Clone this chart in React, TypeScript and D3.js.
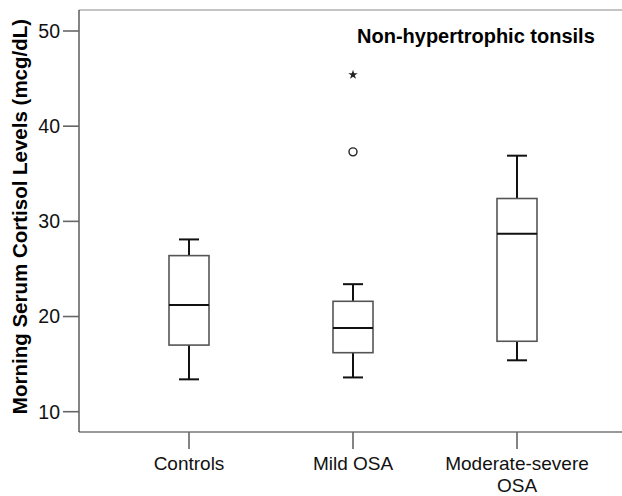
import React from 'react';
import * as d3 from 'd3';

// groups along the x axis (second line of label after "|")
const groups = ['Controls', 'Mild OSA', 'Moderate-severe|OSA'];
// five-number summaries: [lowWhisker, q1, median, q3, highWhisker]
const lowWhisker = [13.4, 13.6, 15.4];
const q1 = [17.0, 16.2, 17.4];
const median = [21.2, 18.8, 28.7];
const q3 = [26.4, 21.6, 32.4];
const highWhisker = [28.1, 23.4, 36.9];
// outliers: group, value, kind
const outlierGroup = ['Mild OSA', 'Mild OSA'];
const outlierValue = [37.3, 45.4];
const outlierKind = ['circle', 'star'];
const yTicks = [10, 20, 30, 40, 50];

const W = 622;
const H = 496;
const left = 79;
const top = 10;
const bottom = 432;

export default function App() {
  const x = d3.scaleBand().domain(groups).range([107, 599]).padding(0);
  const y = d3.scaleLinear().domain([10, 50]).range([411.7, 31]);
  const bw = 40;
  const capW = 20;
  const cx = (g: string) => (x(g) as number) + x.bandwidth() / 2;

  const star = d3.symbol().type(d3.symbolStar).size(28)();

  return (
    <svg width={W} height={H} style={{ position: 'absolute', left: 0, top: 0, background: '#fff' }}
      fontFamily="'Liberation Sans', Arial, sans-serif">
      {/* frame */}
      <line x1={left} x2={W} y1={top} y2={top} stroke="#8a8a8a" strokeWidth={1.2} />
      <line x1={left} x2={W} y1={bottom} y2={bottom} stroke="#777" strokeWidth={1.6} />
      <line x1={left} x2={left} y1={top} y2={bottom} stroke="#333" strokeWidth={1.2} />

      {/* y axis */}
      {yTicks.map(t => (
        <g key={t}>
          <line x1={63} x2={left} y1={y(t)} y2={y(t)} stroke="#666" strokeWidth={1.6} />
          <text x={60} y={y(t)} dy="0.35em" textAnchor="end" fontSize={19.5} fill="#111">{t}</text>
        </g>
      ))}
      <text transform={`translate(27,216.5) rotate(-90)`} textAnchor="middle" fontSize={20.5}
        fontWeight="bold" fill="#000">Morning Serum Cortisol Levels (mcg/dL)</text>

      {/* x axis */}
      {groups.map(g => {
        const lines = g.split('|');
        return (
          <g key={g}>
            <line x1={cx(g)} x2={cx(g)} y1={bottom} y2={449} stroke="#666" strokeWidth={1.6} />
            <text textAnchor="middle" fontSize={19} fill="#111">
              {lines.map((l, i) => (
                <tspan key={i} x={cx(g)} y={470 + i * 22}>{l}</tspan>
              ))}
            </text>
          </g>
        );
      })}

      {/* boxes */}
      {groups.map((g, i) => {
        const c = cx(g);
        return (
          <g key={g}>
            <line x1={c} x2={c} y1={y(highWhisker[i])} y2={y(q3[i])} stroke="#111" strokeWidth={2} />
            <line x1={c} x2={c} y1={y(q1[i])} y2={y(lowWhisker[i])} stroke="#111" strokeWidth={2} />
            <line x1={c - capW / 2} x2={c + capW / 2} y1={y(highWhisker[i])} y2={y(highWhisker[i])} stroke="#111" strokeWidth={2} />
            <line x1={c - capW / 2} x2={c + capW / 2} y1={y(lowWhisker[i])} y2={y(lowWhisker[i])} stroke="#111" strokeWidth={2} />
            <rect x={c - bw / 2} y={y(q3[i])} width={bw} height={y(q1[i]) - y(q3[i])}
              fill="#fff" stroke="#555" strokeWidth={1.6} />
            <line x1={c - bw / 2} x2={c + bw / 2} y1={y(median[i])} y2={y(median[i])} stroke="#111" strokeWidth={2} />
          </g>
        );
      })}

      {/* outliers */}
      {outlierValue.map((v, i) => {
        const c = cx(outlierGroup[i]);
        return outlierKind[i] === 'circle'
          ? <circle key={i} cx={c} cy={y(v)} r={4} fill="none" stroke="#222" strokeWidth={1.4} />
          : <path key={i} d={star as string} transform={`translate(${c},${y(v)})`} fill="#222" />;
      })}

      <text x={357} y={43} fontSize={20} fontWeight="bold" fill="#000">Non-hypertrophic tonsils</text>
    </svg>
  );
}
